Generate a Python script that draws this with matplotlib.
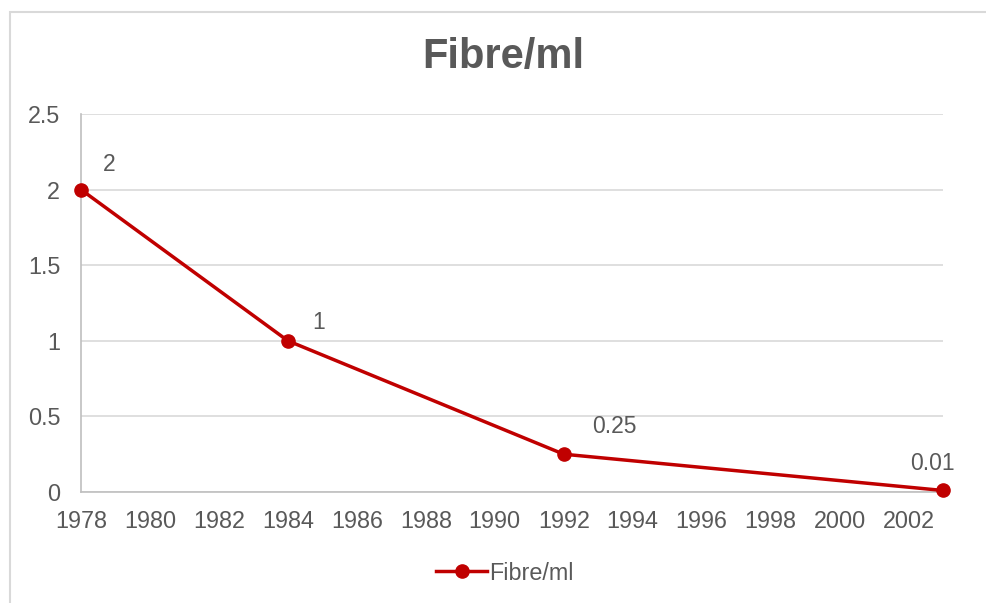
import matplotlib.pyplot as plt
from matplotlib.patches import Rectangle

# dati
years = [1978, 1984, 1992, 2003]
fibre = [2, 1, 0.25, 0.01]
labels = ["2", "1", "0.25", "0.01"]
yticks = [0, 0.5, 1, 1.5, 2, 2.5]
xticks = list(range(1978, 2003, 2))

red = "#C00000"
grey = "#595959"
plt.rcParams["font.family"] = ["Liberation Sans", "DejaVu Sans"]

fig = plt.figure(figsize=(9.86, 6.03), dpi=100)
ax = fig.add_axes([81 / 986, 1 - 492 / 603, (943 - 81) / 986, (492 - 114) / 603])

# bordo del grafico
fig.patches.append(Rectangle((10 / 986, -0.01), 1.0, 1 - 12 / 603 + 0.01,
                             transform=fig.transFigure, fill=False,
                             edgecolor="#d9d9d9", linewidth=1.5))

ax.plot(years, fibre, color=red, linewidth=2.5, marker="o", markersize=9.5,
        label="Fibre/ml", clip_on=False, zorder=3)

# etichette dei dati (offset in pixel)
offsets = [(22, 25), (24, 18), (28, 28), (-33, 27)]
for x, y, t, off in zip(years, fibre, labels, offsets):
    ax.annotate(t, (x, y), xytext=off, textcoords="offset pixels",
                ha="left", va="center", fontsize=16.5, color=grey)

ax.set_xlim(1978, 2003)
ax.set_ylim(0, 2.5)
ax.set_xticks(xticks)
ax.set_yticks(yticks)
ax.set_yticklabels(["0", "0.5", "1", "1.5", "2", "2.5"])
ax.tick_params(axis="both", length=0, labelsize=16.8, colors=grey)
ax.tick_params(axis="x", pad=13)
ax.tick_params(axis="y", pad=15)

ax.grid(axis="y", color="#d9d9d9", linewidth=1.2)
ax.set_axisbelow(True)
for s in ["top", "right"]:
    ax.spines[s].set_visible(False)
ax.spines["left"].set_color("#bfbfbf")
ax.spines["bottom"].set_color("#bfbfbf")
ax.spines["left"].set_linewidth(1.2)
ax.spines["bottom"].set_linewidth(1.2)

fig.text(503 / 986, 1 - 57 / 603, "Fibre/ml", ha="center", va="center",
         fontsize=30, fontweight="bold", color=grey)

fig.legend(loc="center", bbox_to_anchor=(505 / 986, 1 - 573 / 603), frameon=False,
           fontsize=16.8, labelcolor=grey, handlelength=2.2, handletextpad=0.1)

fig.savefig("out.png", dpi=100, facecolor="white")
